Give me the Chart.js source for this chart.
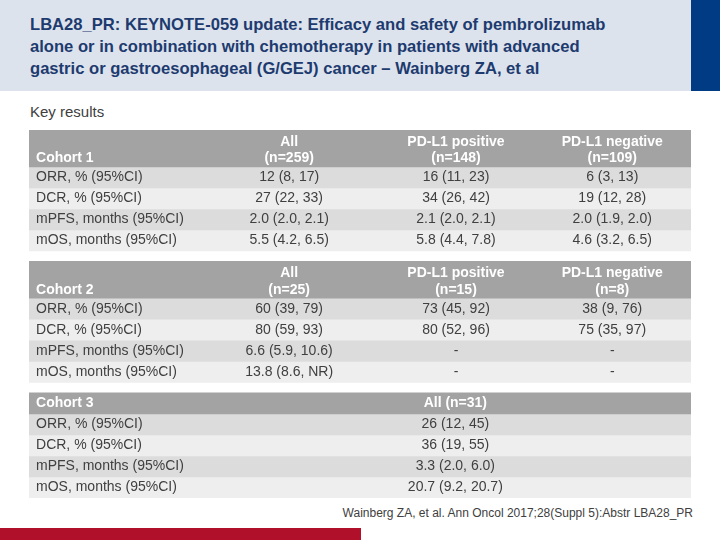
<!DOCTYPE html>
<html>
<head>
<meta charset="utf-8">
<script src="https://cdn.jsdelivr.net/npm/chart.js@4.4.0/dist/chart.umd.min.js"></script>
<style>
  html, body { margin: 0; padding: 0; background: #ffffff; }
  body { width: 720px; height: 540px; position: relative; overflow: hidden; font-family: "Liberation Sans", Arial, sans-serif; }
  #banner { position: absolute; left: 0; top: 0; width: 691px; height: 91px; background: #dde3ed; }
  #bannerBlue { position: absolute; left: 691px; top: 0; width: 29px; height: 91px; background: #003b84; }
  #title { position: absolute; left: 30px; top: 14px; font-weight: bold; font-size: 16.6px; line-height: 22px; color: #1d3b6f; white-space: nowrap; }
  #sub { position: absolute; left: 30px; top: 103px; font-size: 15px; color: #404040; }
  #chartBox { position: absolute; left: 29px; top: 130px; width: 662px; height: 368px; }
  #foot { position: absolute; right: 27px; top: 506px; font-size: 12px; color: #404040; white-space: nowrap; }
  #redBar { position: absolute; left: 0; top: 528px; width: 361px; height: 12px; background: #b0102a; }
</style>
</head>
<body>
<div id="banner"></div>
<div id="bannerBlue"></div>
<div id="title">LBA28_PR: KEYNOTE-059 update: Efficacy and safety of pembrolizumab<br>alone or in combination with chemotherapy in patients with advanced<br>gastric or gastroesophageal (G/GEJ) cancer – Wainberg ZA, et al</div>
<div id="sub">Key results</div>
<div id="chartBox"><canvas id="tableChart"></canvas></div>
<div id="foot">Wainberg ZA, et al. Ann Oncol 2017;28(Suppl 5):Abstr LBA28_PR</div>
<div id="redBar"></div>

<script>
// Datos de la tabla
const rowLabels = ['ORR, % (95%CI)', 'DCR, % (95%CI)', 'mPFS, months (95%CI)', 'mOS, months (95%CI)'];
const cohortNames = ['Cohort 1', 'Cohort 2', 'Cohort 3'];

const cohort1Groups = [['All', '(n=259)'], ['PD-L1 positive', '(n=148)'], ['PD-L1 negative', '(n=109)']];
const cohort1All = ['12 (8, 17)', '27 (22, 33)', '2.0 (2.0, 2.1)', '5.5 (4.2, 6.5)'];
const cohort1Pos = ['16 (11, 23)', '34 (26, 42)', '2.1 (2.0, 2.1)', '5.8 (4.4, 7.8)'];
const cohort1Neg = ['6 (3, 13)', '19 (12, 28)', '2.0 (1.9, 2.0)', '4.6 (3.2, 6.5)'];

const cohort2Groups = [['All', '(n=25)'], ['PD-L1 positive', '(n=15)'], ['PD-L1 negative', '(n=8)']];
const cohort2All = ['60 (39, 79)', '80 (59, 93)', '6.6 (5.9, 10.6)', '13.8 (8.6, NR)'];
const cohort2Pos = ['73 (45, 92)', '80 (52, 96)', '-', '-'];
const cohort2Neg = ['38 (9, 76)', '75 (35, 97)', '-', '-'];

const cohort3Groups = [['All (n=31)']];
const cohort3All = ['26 (12, 45)', '36 (19, 55)', '3.3 (2.0, 6.0)', '20.7 (9.2, 20.7)'];

// Estilo / disposicion (no son datos)
const colors = { header: '#a3a3a3', rowDark: '#dcdcdc', rowLight: '#eeeeee', gap: 'rgba(0,0,0,0)' };
const heights = { header2: 1.75, header1: 1, row: 1, gap: 0.5 };
const labelX = 0.0106;
const colX3 = [0.393, 0.645, 0.881];
const colX1 = [0.644];

// Construye bandas y celdas
const cohorts = [
  { name: cohortNames[0], groups: cohort1Groups, cols: [cohort1All, cohort1Pos, cohort1Neg], xs: colX3 },
  { name: cohortNames[1], groups: cohort2Groups, cols: [cohort2All, cohort2Pos, cohort2Neg], xs: colX3 },
  { name: cohortNames[2], groups: cohort3Groups, cols: [cohort3All], xs: colX1 }
];

const bands = [];
const cells = [];
let pos = 0;
cohorts.forEach((co, ci) => {
  const twoLine = co.groups[0].length > 1;
  const h = twoLine ? heights.header2 : heights.header1;
  bands.push({ h: h, color: colors.header });
  if (twoLine) {
    cells.push({ text: co.name, x: labelX, y: pos + 1.35, bold: true, align: 'left' });
    co.groups.forEach((g, gi) => {
      cells.push({ text: g[0], x: co.xs[gi], y: pos + 0.58, bold: true, align: 'center' });
      cells.push({ text: g[1], x: co.xs[gi], y: pos + 1.35, bold: true, align: 'center' });
    });
  } else {
    cells.push({ text: co.name, x: labelX, y: pos + 0.5, bold: true, align: 'left' });
    co.groups.forEach((g, gi) => {
      cells.push({ text: g[0], x: co.xs[gi], y: pos + 0.5, bold: true, align: 'center' });
    });
  }
  pos += h;
  rowLabels.forEach((lab, ri) => {
    bands.push({ h: heights.row, color: ri % 2 === 0 ? colors.rowDark : colors.rowLight });
    cells.push({ text: lab, x: labelX, y: pos + 0.5, bold: false, align: 'left' });
    co.cols.forEach((col, k) => {
      cells.push({ text: col[ri], x: co.xs[k], y: pos + 0.5, bold: false, align: 'center' });
    });
    pos += heights.row;
  });
  if (ci < cohorts.length - 1) {
    bands.push({ h: heights.gap, color: colors.gap });
    pos += heights.gap;
  }
});
const total = pos;

// Plugin para escribir el texto de cada celda
const cellText = {
  id: 'cellText',
  afterDatasetsDraw(chart) {
    const c = chart.ctx;
    const y = chart.scales.y;
    const col = chart.scales.col;
    c.save();
    c.textBaseline = 'middle';
    cells.forEach(cell => {
      c.font = (cell.bold ? 'bold ' : '') + '14px "Liberation Sans", Arial, sans-serif';
      c.fillStyle = cell.bold ? '#ffffff' : '#404040';
      c.textAlign = cell.align;
      c.fillText(cell.text, col.getPixelForValue(cell.x), y.getPixelForValue(cell.y));
    });
    c.restore();
  }
};

const ctx = document.getElementById('tableChart').getContext('2d');
const tableChart = new Chart(ctx, {
  type: 'bar',
  data: {
    labels: ['table'],
    datasets: bands.map(b => ({
      data: [b.h],
      backgroundColor: b.color,
      stack: 'table',
      borderWidth: 0,
      barPercentage: 1,
      categoryPercentage: 1
    }))
  },
  options: {
    responsive: true,
    maintainAspectRatio: false,
    animation: false,
    events: [],
    layout: { padding: 0 },
    plugins: { legend: { display: false }, tooltip: { enabled: false } },
    scales: {
      x: { display: false, stacked: true },
      y: { display: false, stacked: true, reverse: true, min: 0, max: total },
      col: { type: 'linear', axis: 'x', display: false, offset: false, min: 0, max: 1 }
    }
  },
  plugins: [cellText]
});
</script>
</body>
</html>
